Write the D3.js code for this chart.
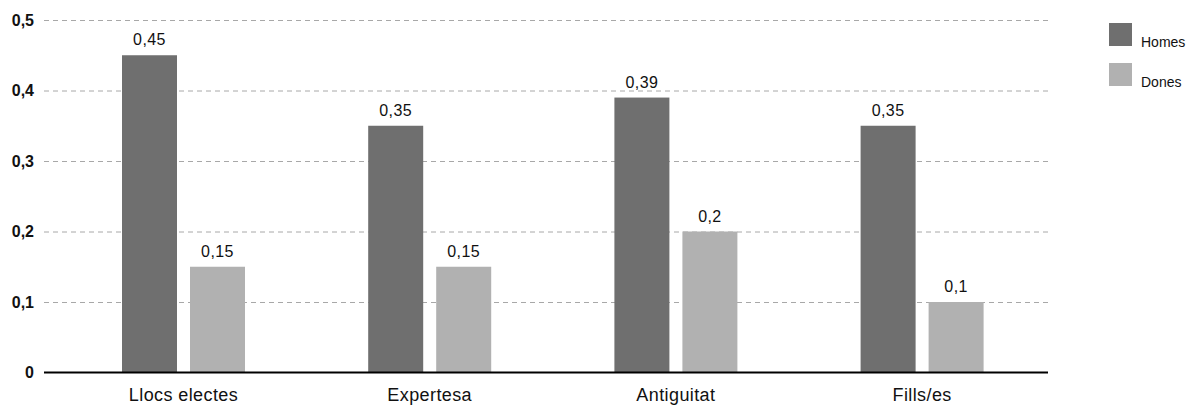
<!DOCTYPE html>
<html>
<head>
<meta charset="utf-8">
<script src="https://cdn.jsdelivr.net/npm/d3@7"></script>
<style>
  html, body { margin: 0; padding: 0; background: #fff; }
  svg { display: block; font-family: "Liberation Sans", Arial, Helvetica, sans-serif; }
</style>
</head>
<body>
<svg id="chart" width="1189" height="406"></svg>
<script>
// Categories and series
const categories = ["Llocs electes", "Expertesa", "Antiguitat", "Fills/es"];
const seriesNames = ["Homes", "Dones"];
const homes = [0.45, 0.35, 0.39, 0.35];
const dones = [0.15, 0.15, 0.2, 0.1];
const yTicks = [0, 0.1, 0.2, 0.3, 0.4, 0.5];
const yTickLabels = ["0", "0,1", "0,2", "0,3", "0,4", "0,5"];
const colors = ["#6f6f6f", "#b1b1b1"];

const rows = categories.map((c, i) => ({ cat: c, values: [homes[i], dones[i]] }));
const fmt = v => String(v).replace(".", ",");

const svg = d3.select("#chart");
const plotLeft = 44, plotRight = 1048;

const y = d3.scaleLinear().domain([0, 0.5]).range([372.5, 20]);

const x0 = d3.scaleBand().domain(categories).range([60.4, 1045.2]).paddingInner(0).paddingOuter(0);
const pairWidth = 123;
const x1 = d3.scaleBand().domain(seriesNames)
  .range([x0.bandwidth() / 2 - pairWidth / 2, x0.bandwidth() / 2 + pairWidth / 2])
  .paddingInner(13 / 68).paddingOuter(0);

// Dashed gridlines with bold tick labels
const yAxis = d3.axisLeft(y)
  .tickValues(yTicks)
  .tickFormat((d, i) => yTickLabels[i])
  .tickSize(-(plotRight - plotLeft))
  .tickPadding(10);

const gy = svg.append("g").attr("transform", `translate(${plotLeft},0)`).call(yAxis);
gy.select(".domain").remove();
gy.selectAll(".tick line")
  .attr("stroke", "#a8a8a8")
  .attr("stroke-width", 1)
  .attr("stroke-dasharray", "5,4")
  .attr("opacity", d => d === 0 ? 0 : 1);
gy.selectAll(".tick text")
  .attr("fill", "#111")
  .style("font-size", "16px")
  .style("font-weight", "bold");

// Bars
const groups = svg.append("g").selectAll("g")
  .data(rows)
  .join("g")
  .attr("transform", d => `translate(${x0(d.cat)},0)`);

groups.selectAll("rect")
  .data(d => d.values.map((v, i) => ({ key: seriesNames[i], v, i })))
  .join("rect")
  .attr("x", d => x1(d.key))
  .attr("y", d => y(d.v))
  .attr("width", x1.bandwidth())
  .attr("height", d => y(0) - y(d.v))
  .attr("fill", d => colors[d.i]);

groups.selectAll("text.val")
  .data(d => d.values.map((v, i) => ({ key: seriesNames[i], v, i })))
  .join("text")
  .attr("class", "val")
  .attr("x", d => x1(d.key) + x1.bandwidth() / 2)
  .attr("y", d => y(d.v) - 10)
  .attr("text-anchor", "middle")
  .style("font-size", "16px")
  .style("letter-spacing", "0.4px")
  .attr("fill", "#111")
  .text(d => fmt(d.v));

// Baseline
svg.append("line")
  .attr("x1", plotLeft).attr("x2", plotRight)
  .attr("y1", y(0)).attr("y2", y(0))
  .attr("stroke", "#000").attr("stroke-width", 2);

// Category labels
svg.append("g").selectAll("text")
  .data(categories)
  .join("text")
  .attr("x", d => x0(d) + x0.bandwidth() / 2)
  .attr("y", 401)
  .attr("text-anchor", "middle")
  .style("font-size", "18px")
  .style("letter-spacing", "0.4px")
  .attr("fill", "#111")
  .text(d => d);

// Legend
const legend = svg.append("g").attr("transform", "translate(1109,23)");
const li = legend.selectAll("g").data(seriesNames).join("g")
  .attr("transform", (d, i) => `translate(0,${i * 40})`);
li.append("rect").attr("width", 23).attr("height", 23).attr("fill", (d, i) => colors[i]);
li.append("text").attr("x", 32).attr("y", 23.5)
  .style("font-size", "14px").attr("fill", "#111").text(d => d);
</script>
</body>
</html>
